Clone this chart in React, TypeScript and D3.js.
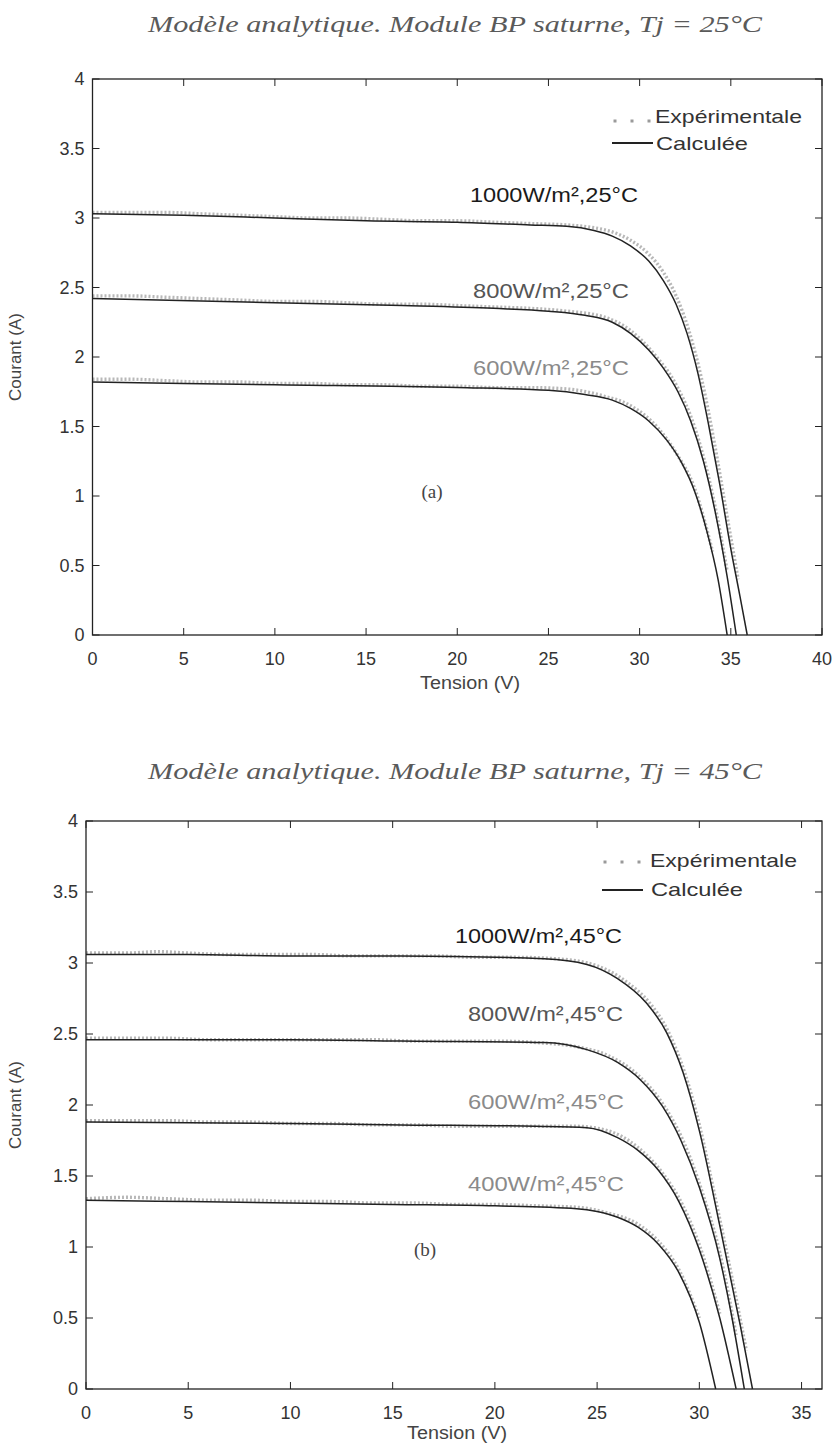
import React from 'react';
import * as d3 from 'd3';

// ---------- Panel (a) : Tj = 25°C ----------
const titleA = 'Modèle analytique. Module BP saturne,  Tj = 25°C';
const xTicksA = [0, 5, 10, 15, 20, 25, 30, 35, 40];
const yTicks = [0, 0.5, 1, 1.5, 2, 2.5, 3, 3.5, 4];
const yTickLabels = ['0', '0.5', '1', '1.5', '2', '2.5', '3', '3.5', '4'];

const vA1000 = [0, 5, 10, 15, 20, 24, 26, 27.5, 28.5, 29.5, 30.5, 31.3, 32, 32.6, 33.2, 33.8, 34.4, 35.0, 35.5, 35.9];
const iA1000 = [3.03, 3.02, 3.0, 2.98, 2.97, 2.95, 2.94, 2.91, 2.87, 2.80, 2.69, 2.55, 2.38, 2.17, 1.88, 1.50, 1.08, 0.62, 0.28, 0];
const vA800 = [0, 10, 17, 22, 25, 27, 28.5, 29.5, 30.5, 31.3, 32.1, 32.8, 33.5, 34.2, 34.8, 35.3];
const iA800 = [2.42, 2.39, 2.37, 2.35, 2.33, 2.30, 2.25, 2.17, 2.05, 1.92, 1.75, 1.54, 1.25, 0.85, 0.42, 0];
const vA600 = [0, 10, 20, 25, 27, 28.5, 29.5, 30.5, 31.5, 32.3, 33, 33.7, 34.3, 34.8];
const iA600 = [1.82, 1.80, 1.78, 1.76, 1.73, 1.69, 1.63, 1.54, 1.40, 1.24, 1.04, 0.74, 0.40, 0];

const evA1000 = [0, 2, 4, 6, 8, 10, 12, 14, 16, 18, 20, 22, 24, 26, 27.5, 28.5, 29.5, 30.5, 31.3, 32.0, 32.7, 33.4, 34.1, 34.8, 35.4];
const eiA1000 = [3.04, 3.04, 3.04, 3.03, 3.02, 3.01, 3.0, 3.0, 2.99, 2.98, 2.98, 2.97, 2.96, 2.95, 2.93, 2.90, 2.84, 2.74, 2.61, 2.44, 2.19, 1.84, 1.38, 0.85, 0.4];
const evA800 = [0, 2, 4, 6, 8, 10, 12, 14, 16, 18, 20, 22, 24, 26, 28, 29.5, 30.8, 32, 33, 34, 34.8];
const eiA800 = [2.44, 2.44, 2.43, 2.42, 2.41, 2.40, 2.40, 2.39, 2.38, 2.38, 2.37, 2.36, 2.35, 2.33, 2.29, 2.19, 2.02, 1.80, 1.50, 1.01, 0.46];
const evA600 = [0, 2, 4, 6, 8, 10, 12, 14, 16, 18, 20, 22, 24, 26, 28, 29.5, 31, 32, 33, 34];
const eiA600 = [1.84, 1.84, 1.83, 1.82, 1.82, 1.81, 1.81, 1.80, 1.80, 1.79, 1.79, 1.78, 1.78, 1.77, 1.72, 1.65, 1.49, 1.31, 1.06, 0.6];

// ---------- Panel (b) : Tj = 45°C ----------
const titleB = 'Modèle analytique. Module BP saturne,  Tj = 45°C';
const xTicksB = [0, 5, 10, 15, 20, 25, 30, 35];

const vB1000 = [0, 5, 10, 15.4, 22.4, 24.5, 26.0, 27.4, 28.4, 29.2, 30.0, 31.0, 32.0, 32.6];
const iB1000 = [3.06, 3.06, 3.05, 3.05, 3.03, 2.99, 2.89, 2.72, 2.51, 2.23, 1.82, 1.15, 0.45, 0];
const vB800 = [0, 10, 15.4, 22.4, 24.5, 26.0, 27.1, 28.2, 29.1, 30, 31, 31.6, 32.2];
const iB800 = [2.46, 2.46, 2.45, 2.44, 2.39, 2.30, 2.18, 1.99, 1.75, 1.42, 0.92, 0.5, 0];
const vB600 = [0, 10, 15.4, 22, 24.5, 26, 27, 28, 29, 30, 31, 31.8];
const iB600 = [1.88, 1.87, 1.86, 1.85, 1.84, 1.77, 1.68, 1.54, 1.32, 0.98, 0.5, 0];
const vB400 = [0, 5, 10, 15, 20, 24, 25, 26, 27, 28, 29, 30, 30.8];
const iB400 = [1.33, 1.32, 1.31, 1.30, 1.29, 1.27, 1.25, 1.21, 1.14, 1.02, 0.82, 0.47, 0];

const evB1000 = [0, 2, 3.5, 5, 7, 9, 11, 13, 15, 17, 19, 21, 23, 25, 26.5, 27.5, 28.5, 29.3, 30, 30.8, 31.6, 32.3];
const eiB1000 = [3.07, 3.07, 3.08, 3.07, 3.06, 3.06, 3.06, 3.05, 3.05, 3.05, 3.04, 3.04, 3.03, 2.98, 2.86, 2.73, 2.51, 2.22, 1.86, 1.33, 0.78, 0.27];
const evB800 = [0, 2, 4, 6, 8, 10, 12, 14, 16, 18, 20, 22, 24, 25.5, 27, 28.2, 29.2, 30.2, 31, 31.8];
const eiB800 = [2.47, 2.47, 2.47, 2.46, 2.46, 2.46, 2.46, 2.46, 2.45, 2.45, 2.45, 2.44, 2.41, 2.35, 2.21, 2.01, 1.75, 1.36, 0.96, 0.38];
const evB600 = [0, 2, 4, 6, 8, 10, 12, 14, 16, 18, 20, 22, 24, 25.5, 27, 28.2, 29.2, 30.2, 31];
const eiB600 = [1.89, 1.89, 1.89, 1.88, 1.88, 1.87, 1.87, 1.86, 1.86, 1.85, 1.85, 1.85, 1.85, 1.82, 1.70, 1.52, 1.29, 0.93, 0.53];
const evB400 = [0, 2, 4, 6, 8, 10, 12, 14, 16, 18, 20, 22, 24, 25.5, 27, 28, 29, 30];
const eiB400 = [1.34, 1.35, 1.34, 1.33, 1.33, 1.32, 1.32, 1.31, 1.31, 1.30, 1.30, 1.29, 1.28, 1.24, 1.16, 1.04, 0.84, 0.5];

const labelsA = ['1000W/m²,25°C', '800W/m²,25°C', '600W/m²,25°C'];
const labelsB = ['1000W/m²,45°C', '800W/m²,45°C', '600W/m²,45°C', '400W/m²,45°C'];
const legendLabels = ['Expérimentale', 'Calculée'];

const W = 833;
const H = 1444;
const SANS = 'Arial, "Liberation Sans", Helvetica, sans-serif';
const SERIF = '"Liberation Serif", "Times New Roman", serif';

type Series = { v: number[]; i: number[]; ev: number[]; ei: number[]; label: string; lx: number; ly: number; lw: number; color: string };

type PanelCfg = {
  title: string; titleY: number; tag: string; tagX: number; tagY: number;
  left: number; right: number; top: number; bottom: number;
  xMax: number; xTicks: number[]; series: Series[];
  dotsX: number; dotsY: number; lineX: number; lineY: number; textX: number; text1Y: number; text2Y: number;
  xlabX: number; xlabOff: number;
};

const panels: PanelCfg[] = [
  {
    title: titleA, titleY: 32, tag: '(a)', tagX: 432, tagY: 498,
    left: 92.5, right: 822, top: 79, bottom: 635, xMax: 40, xTicks: xTicksA,
    dotsX: 615, dotsY: 121, lineX: 612, lineY: 143, textX: 655, text1Y: 123, text2Y: 150,
    xlabX: 470, xlabOff: 54,
    series: [
      { v: vA1000, i: iA1000, ev: evA1000, ei: eiA1000, label: labelsA[0], lx: 470, ly: 202, lw: 168, color: '#1a1a1a' },
      { v: vA800, i: iA800, ev: evA800, ei: eiA800, label: labelsA[1], lx: 473, ly: 298, lw: 156, color: '#555' },
      { v: vA600, i: iA600, ev: evA600, ei: eiA600, label: labelsA[2], lx: 473, ly: 375, lw: 156, color: '#8a8a8a' },
    ],
  },
  {
    title: titleB, titleY: 779, tag: '(b)', tagX: 425, tagY: 1256,
    left: 86, right: 822, top: 821, bottom: 1389, xMax: 36, xTicks: xTicksB,
    dotsX: 605, dotsY: 862, lineX: 602, lineY: 890, textX: 650, text1Y: 867, text2Y: 896,
    xlabX: 457, xlabOff: 50,
    series: [
      { v: vB1000, i: iB1000, ev: evB1000, ei: eiB1000, label: labelsB[0], lx: 455, ly: 943, lw: 167, color: '#1a1a1a' },
      { v: vB800, i: iB800, ev: evB800, ei: eiB800, label: labelsB[1], lx: 468, ly: 1021, lw: 155, color: '#555' },
      { v: vB600, i: iB600, ev: evB600, ei: eiB600, label: labelsB[2], lx: 468, ly: 1109, lw: 156, color: '#8a8a8a' },
      { v: vB400, i: iB400, ev: evB400, ei: eiB400, label: labelsB[3], lx: 468, ly: 1191, lw: 156, color: '#8a8a8a' },
    ],
  },
];

function Panel({ p }: { p: PanelCfg }) {
  const x = d3.scaleLinear().domain([0, p.xMax]).range([p.left, p.right]);
  const y = d3.scaleLinear().domain([0, 4]).range([p.bottom, p.top]);
  const line = d3.line<[number, number]>().x(d => x(d[0])).y(d => y(d[1])).curve(d3.curveMonotoneX);
  const tl = 7;
  const midY = (p.top + p.bottom) / 2;
  return (
    <g>
      <text x={455} y={p.titleY} textAnchor="middle" fontFamily={SERIF} fontStyle="italic" fontSize={24} fill="#5a5a5a"
        textLength={614} lengthAdjust="spacingAndGlyphs">{p.title}</text>
      {/* experimental */}
      {p.series.map((s, k) => (
        <path key={'e' + k} d={line(s.ev.map((v, j) => [v, s.ei[j]] as [number, number])) || ''}
          fill="none" stroke="#b8b8b8" strokeWidth={3.4} strokeDasharray="2,2" />
      ))}
      {/* calculated */}
      {p.series.map((s, k) => (
        <path key={'c' + k} d={line(s.v.map((v, j) => [v, s.i[j]] as [number, number])) || ''}
          fill="none" stroke="#222" strokeWidth={1.5} />
      ))}
      {p.series.map((s, k) => (
        <text key={'l' + k} x={s.lx} y={s.ly} fontFamily={SANS} fontSize={20} fill={s.color}
          textLength={s.lw} lengthAdjust="spacingAndGlyphs">{s.label}</text>
      ))}
      {/* box */}
      <rect x={p.left} y={p.top} width={p.right - p.left} height={p.bottom - p.top} fill="none" stroke="#222" strokeWidth={1.3} />
      {p.xTicks.map(t => (
        <g key={'x' + t}>
          <line x1={x(t)} x2={x(t)} y1={p.bottom} y2={p.bottom - tl} stroke="#222" />
          <line x1={x(t)} x2={x(t)} y1={p.top} y2={p.top + tl} stroke="#222" />
          <text x={x(t)} y={p.bottom + 30} textAnchor="middle" fontFamily={SANS} fontSize={18} fill="#333">{t}</text>
        </g>
      ))}
      {yTicks.map((t, k) => (
        <g key={'y' + t}>
          <line x1={p.left} x2={p.left + tl} y1={y(t)} y2={y(t)} stroke="#222" />
          <line x1={p.right} x2={p.right - tl} y1={y(t)} y2={y(t)} stroke="#222" />
          <text x={p.left - 8} y={y(t) + 6} textAnchor="end" fontFamily={SANS} fontSize={18} fill="#333">{yTickLabels[k]}</text>
        </g>
      ))}
      <text x={p.xlabX} y={p.bottom + p.xlabOff} textAnchor="middle" fontFamily={SANS} fontSize={18} fill="#444"
        textLength={100} lengthAdjust="spacingAndGlyphs">Tension (V)</text>
      <text transform={`translate(${21},${midY}) rotate(-90)`} textAnchor="middle" fontFamily={SANS} fontSize={17} fill="#444">Courant (A)</text>
      <text x={p.tagX} y={p.tagY} textAnchor="middle" fontFamily={SERIF} fontSize={19} fill="#444">{p.tag}</text>
      {/* legend */}
      {[0, 1, 2].map(j => (
        <rect key={'ld' + j} x={p.dotsX + j * 17 - 1.5} y={p.dotsY - 1.5} width={3} height={3} fill="#9a9a9a" />
      ))}
      <text x={p.textX} y={p.text1Y} fontFamily={SANS} fontSize={19} fill="#333"
        textLength={147} lengthAdjust="spacingAndGlyphs">{legendLabels[0]}</text>
      <line x1={p.lineX} x2={p.lineX + 41} y1={p.lineY} y2={p.lineY} stroke="#222" strokeWidth={1.8} />
      <text x={p.textX + 1} y={p.text2Y} fontFamily={SANS} fontSize={19} fill="#333"
        textLength={92} lengthAdjust="spacingAndGlyphs">{legendLabels[1]}</text>
    </g>
  );
}

export default function App() {
  return (
    <svg width={W} height={H} style={{ position: 'absolute', left: 0, top: 0, background: '#fff' }}>
      <rect x={0} y={0} width={W} height={H} fill="#fff" />
      {panels.map((p, k) => <Panel key={k} p={p} />)}
    </svg>
  );
}
